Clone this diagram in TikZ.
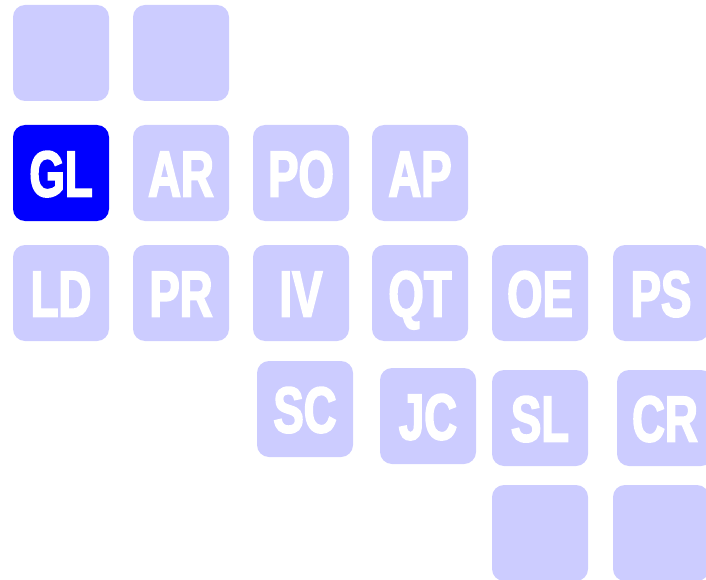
\documentclass[tikz,border=0pt]{standalone}
\usepackage{fontspec}
\newfontfamily\condfont[FakeStretch=0.7,FakeBold=2.5]{Liberation Sans Bold}
\definecolor{tilelight}{HTML}{CCCCFF}
\definecolor{tileblue}{HTML}{0000FF}
\tikzset{
  tile/.style={fill=tilelight, draw=none, rounded corners=12pt, minimum width=96pt, minimum height=96pt,
    inner sep=0pt, text=white, font=\condfont\fontsize{65}{65}\selectfont, text height=47pt, text depth=0pt},
  tilesel/.style={tile, fill=tileblue}
}
\begin{document}
\begin{tikzpicture}[x=1pt,y=-1pt]
\useasboundingbox (0,0) rectangle (706,580);
\clip (0,0) rectangle (706,580);
% row 1
\node[tile] (e1) at (61,53) {};
\node[tile] (e2) at (181,53) {};
% row 2
\node[tilesel] (gl) at (61,173) {GL};
\node[tile] (ar) at (181,173) {AR};
\node[tile] (po) at (301,173) {PO};
\node[tile] (ap) at (420,173) {AP};
% row 3
\node[tile] (ld) at (61,293) {LD};
\node[tile] (pr) at (181,293) {PR};
\node[tile] (iv) at (301,293) {IV};
\node[tile] (qt) at (420,293) {QT};
\node[tile] (oe) at (540,293) {OE};
\node[tile] (ps) at (661,293) {PS};
% row 4
\node[tile] (sc) at (305,409) {SC};
\node[tile] (jc) at (428,416) {JC};
\node[tile] (sl) at (540,418) {SL};
\node[tile] (cr) at (665,418) {CR};
% row 5
\node[tile] (e3) at (540,533) {};
\node[tile] (e4) at (661,533) {};
\end{tikzpicture}
\end{document}
